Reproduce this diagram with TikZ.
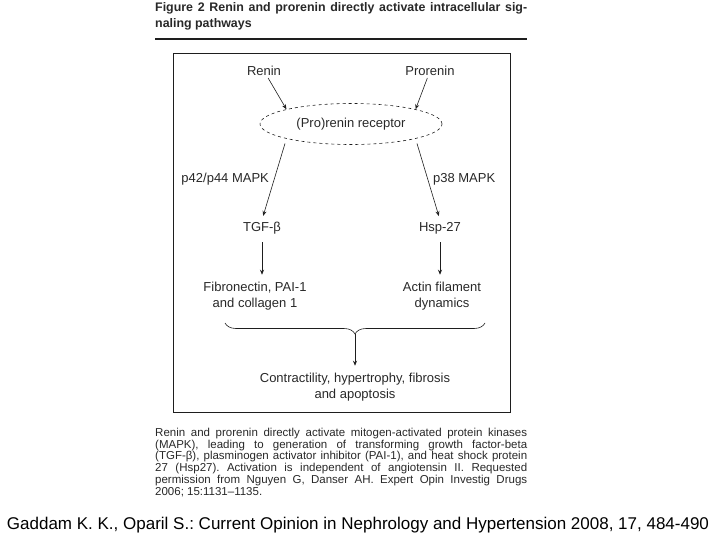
\documentclass[tikz,border=0pt]{standalone}
\usepackage{fontspec}
\setmainfont{Liberation Sans}
\usetikzlibrary{positioning,arrows.meta,calc,shapes.geometric,decorations.pathreplacing}
\definecolor{scanInk}{RGB}{40,40,40}
\definecolor{scanLine}{RGB}{30,30,30}
\frenchspacing
\tikzset{
    base/.style={font=\fontsize{13}{16}\selectfont, align=center, text=scanInk, inner sep=2pt},
    receptor/.style={base, ellipse, draw=scanLine, dashed, line width=0.6pt,
                     minimum width=182pt, minimum height=41pt, inner sep=0pt},
    flow/.style={-{Stealth[length=5pt,width=4pt]}, line width=0.6pt, draw=scanLine},
    bracket/.style={draw=scanLine, line width=0.6pt, decorate,
                    decoration={brace, mirror, amplitude=11pt}},
    para/.style={font=\fontsize{11.5}{11.7}\selectfont, text=scanInk, text width=372pt,
                 align=justify, inner sep=0pt, execute at begin node={\tolerance=9999\hyphenpenalty=10000}}
}

\begin{document}
\begin{tikzpicture}[x=1pt,y=-1pt]
  \useasboundingbox (0,0) rectangle (720,540);

  % Heading and rule
  \node[para, font=\bfseries\fontsize{12.4}{16}\selectfont, anchor=north west] (head) at (155,2)
    {Figure 2 Renin and prorenin directly activate intracellular sig-\linebreak naling pathways};
  \draw[line width=1.2pt, scanLine] (155,39) -- (527,39);

  % Frame
  \draw[line width=0.9pt, scanLine] (173,53) rectangle (510,412);

  % Pathway
  \node[base] (renin) at (264,71) {Renin};
  \node[base] (prorenin) at (430,71) {Prorenin};
  \node[receptor] (rec) at (351,124) {(Pro)renin receptor};

  \node[base] (tgf) at (262,228) {TGF-β};
  \node[base] (hsp) at (440,228) {Hsp-27};

  \node[base] (fib) at (255,296) {Fibronectin, PAI-1\\and collagen 1};
  \node[base] (actin) at (442,296) {Actin filament\\dynamics};

  \node[base] (out) at (355,387) {Contractility, hypertrophy, fibrosis\\and apoptosis};

  % Arrows
  \draw[flow] (renin) -- (rec.north west);
  \draw[flow] (prorenin) -- (rec.north east);
  \draw[flow, shorten <=5pt, shorten >=4pt] (rec.south west) -- node[base, left=3pt] {p42/p44 MAPK} (tgf.north);
  \draw[flow, shorten <=5pt, shorten >=4pt] (rec.south east) -- node[base, right=3pt] {p38 MAPK} (hsp.north);
  \draw[flow, shorten <=6pt, shorten >=5pt] (tgf) -- (tgf |- fib.north);
  \draw[flow, shorten <=6pt, shorten >=5pt] (hsp) -- (hsp |- actin.north);

  % Brace
  \coordinate (bl) at (225,323);
  \coordinate (br) at (485,323);
  \coordinate (tip) at (355,334);
  \draw[bracket] (bl) -- (br);
  \draw[flow, shorten >=5pt] (tip) -- (out.north);

  % Caption
  \node[para, anchor=north west] (caption) at (155,428)
    {Renin and prorenin directly activate mitogen-activated protein kinases\linebreak
     (MAPK), leading to generation of transforming growth factor-beta\linebreak
     (TGF-β), plasminogen activator inhibitor (PAI-1), and heat shock protein\linebreak
     27 (Hsp27). Activation is independent of angiotensin II. Requested\linebreak
     permission from Nguyen G, Danser AH. Expert Opin Investig Drugs\linebreak
     2006; 15:1131--1135.};

  % Source
  \node[font=\fontsize{17}{20}\selectfont, text=black] (cite) at (358,525)
    {Gaddam K. K., Oparil S.: Current Opinion in Nephrology and Hypertension 2008, 17, 484-490};
\end{tikzpicture}
\end{document}
